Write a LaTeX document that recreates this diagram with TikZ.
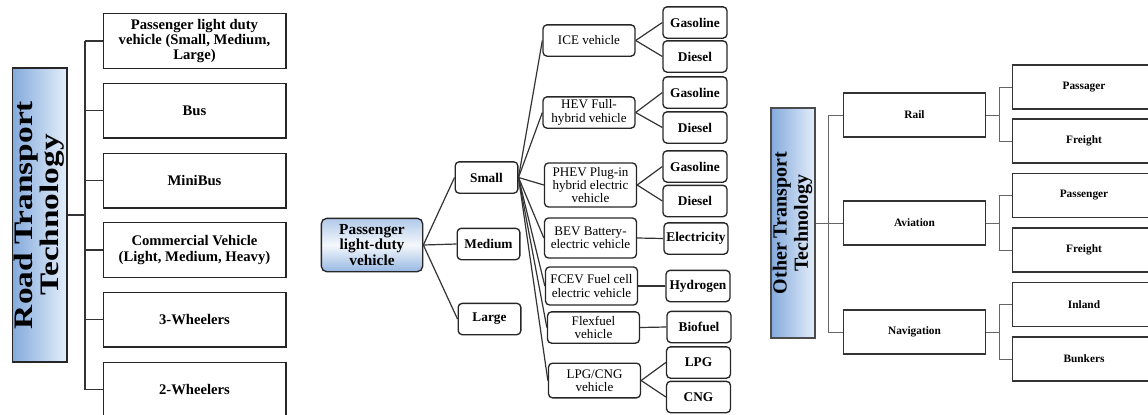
\documentclass[tikz,border=0pt]{standalone}
\usepackage{fontspec}
\usepackage{graphicx}
\setmainfont{Liberation Serif}
\usetikzlibrary{positioning, calc}
\definecolor{techblue}{RGB}{132,170,220}
\definecolor{paleblue}{RGB}{228,238,250}
\definecolor{boxblue}{RGB}{150,183,226}

\begin{document}
\begin{tikzpicture}[x=0.75pt, y=-0.75pt,
    techbox/.style={draw=black!85, line width=1pt, left color=techblue, right color=paleblue, inner sep=0pt},
    roadbox/.style={draw=black!85, line width=1pt, minimum width=137pt, minimum height=41pt, inner sep=1pt, align=center, font=\fontsize{11}{11.3}\selectfont\bfseries},
    pldvbox/.style={draw=black!85, line width=1pt, rounded corners=4pt, top color=boxblue!75, bottom color=boxblue, middle color=white!90!boxblue, minimum width=76pt, minimum height=40pt, inner sep=1pt, align=center, font=\fontsize{11.5}{11.3}\selectfont\bfseries},
    sizebox/.style={draw=black!85, line width=1pt, rounded corners=3pt, minimum width=47pt, minimum height=23.5pt, inner sep=1pt, font=\fontsize{10}{10}\selectfont\bfseries},
    drivebox/.style={draw=black!85, line width=1pt, rounded corners=3pt, minimum width=69pt, minimum height=23.5pt, inner sep=1pt, align=center, font=\fontsize{9.8}{10}\selectfont},
    fuelbox/.style={draw=black!85, line width=1pt, rounded corners=3pt, minimum width=48pt, minimum height=23.5pt, inner sep=1pt, font=\fontsize{10}{10}\selectfont\bfseries},
    modebox/.style={draw=black!80, line width=0.8pt, minimum width=107pt, minimum height=33pt, font=\fontsize{8.5}{8.5}\selectfont\bfseries},
    link/.style={line width=0.9pt, draw=black!80},
    thinlink/.style={line width=0.7pt, draw=black!60}]

    \useasboundingbox (0,0) rectangle (1148,414);
    \clip (0,0) rectangle (1148,414);

    % Road transport technology
    \node[techbox, minimum width=41pt, minimum height=220.5pt] (road) at (39.5,215)
        {\rotatebox{90}{\scalebox{1}[0.8]{\fontsize{25}{23.4}\selectfont\bfseries\begin{tabular}{@{}c@{}}Road Transport\\Technology\end{tabular}}}};
    \node[roadbox] (pldvroad) at (194.5,41) {Passenger light duty\\vehicle (Small, Medium,\\Large)};
    \node[roadbox] (bus) at (194.5,110.5) {Bus};
    \node[roadbox] (minibus) at (194.5,180.5) {MiniBus};
    \node[roadbox] (commercial) at (194.5,250) {Commercial Vehicle\\(Light, Medium, Heavy)};
    \node[roadbox] (wheel3) at (194.5,319.5) {3-Wheelers};
    \node[roadbox] (wheel2) at (194.5,389.5) {2-Wheelers};

    \coordinate (roadtrunk) at (85,215);
    \draw[link] (road.east) -- (roadtrunk);
    \draw[link] (roadtrunk |- pldvroad.west) -- (roadtrunk |- wheel2.west);
    \foreach \r in {pldvroad,bus,minibus,commercial,wheel3,wheel2}
        \draw[link] (roadtrunk |- \r.west) -- (\r.west);

    % Passenger light-duty vehicle
    \node[pldvbox] (pldv) at (372,245) {Passenger\\light-duty\\vehicle};
    \node[sizebox] (small) at (486.5,177.5) {Small};
    \node[sizebox] (medium) at (488.5,244) {Medium};
    \node[sizebox] (large) at (489.5,319) {Large};

    \draw[link] (pldv.east) -- (small.west);
    \draw[link] (pldv.east) -- (medium.west);
    \draw[link] (pldv.east) -- (large.west);

    % Drive trains
    \node[drivebox] (ice) at (589,40.5) {ICE vehicle};
    \node[drivebox] (hev) at (589,112.5) {HEV Full-\\hybrid vehicle};
    \node[drivebox, minimum height=33pt] (phev) at (590.5,185) {PHEV Plug-in\\hybrid electric\\vehicle};
    \node[drivebox, minimum height=30pt] (bev) at (590.5,238) {BEV Battery-\\electric vehicle};
    \node[drivebox, minimum height=28.5pt] (fcev) at (591.5,286) {FCEV Fuel cell\\electric vehicle};
    \node[drivebox] (flex) at (593.5,327.5) {Flexfuel\\vehicle};
    \node[drivebox, minimum height=26pt] (lpgcng) at (594.5,380.5) {LPG/CNG\\vehicle};

    \foreach \d in {ice,hev,phev,bev,fcev,flex,lpgcng}
        \draw[link] (small.east) -- (\d.west);

    % Fuels
    \node[fuelbox] (gas1) at (695,22.5) {Gasoline};
    \node[fuelbox] (dies1) at (695,56.5) {Diesel};
    \node[fuelbox] (gas2) at (695,92.5) {Gasoline};
    \node[fuelbox] (dies2) at (695,127.5) {Diesel};
    \node[fuelbox] (gas3) at (695,166.5) {Gasoline};
    \node[fuelbox] (dies3) at (695,201) {Diesel};
    \node[fuelbox] (elec) at (696,238.5) {Electricity};
    \node[fuelbox] (hydro) at (698,286) {Hydrogen};
    \node[fuelbox] (bio) at (699,327) {Biofuel};
    \node[fuelbox] (lpg) at (698.5,362.5) {LPG};
    \node[fuelbox] (cng) at (698.5,397) {CNG};

    \draw[link] (ice.east) -- (gas1.west);
    \draw[link] (ice.east) -- (dies1.west);
    \draw[link] (hev.east) -- (gas2.west);
    \draw[link] (hev.east) -- (dies2.west);
    \draw[link] (phev.east) -- (gas3.west);
    \draw[link] (phev.east) -- (dies3.west);
    \draw[link] (bev.east) -- (elec.west);
    \draw[link] (fcev.east) -- (hydro.west);
    \draw[link] (flex.east) -- (bio.west);
    \draw[link] (lpgcng.east) -- (lpg.west);
    \draw[link] (lpgcng.east) -- (cng.west);

    % Other transport technology
    \node[techbox, draw=black!70, line width=0.8pt, minimum width=33pt, minimum height=172.5pt] (other) at (793,223)
        {\rotatebox{90}{\fontsize{15}{16}\selectfont\bfseries\begin{tabular}{@{}c@{}}Other Transport\\Technology\end{tabular}}};
    \node[modebox] (rail) at (914.5,115) {Rail};
    \node[modebox] (aviation) at (914.5,223) {Aviation};
    \node[modebox] (navigation) at (914.5,332) {Navigation};

    \coordinate (othertrunk) at (828,223);
    \draw[thinlink] (other.east) -- (othertrunk);
    \draw[thinlink] (othertrunk |- rail.west) -- (othertrunk |- navigation.west);
    \foreach \m in {rail,aviation,navigation}
        \draw[thinlink] (othertrunk |- \m.west) -- (\m.west);

    % Segments
    \node[modebox] (railpass) at (1084,87) {Passager};
    \node[modebox] (railfreight) at (1084,141) {Freight};
    \node[modebox] (airpass) at (1084,195.5) {Passenger};
    \node[modebox] (airfreight) at (1084,250) {Freight};
    \node[modebox] (inland) at (1084,304.5) {Inland};
    \node[modebox] (bunkers) at (1084,359) {Bunkers};

    \coordinate (railfork) at (999.5,115);
    \coordinate (airfork) at (999.5,223);
    \coordinate (navfork) at (999.5,332);
    \draw[thinlink] (rail.east) -- (railfork);
    \draw[thinlink] (railpass.west) -| (railfork) |- (railfreight.west);
    \draw[thinlink] (aviation.east) -- (airfork);
    \draw[thinlink] (airpass.west) -| (airfork) |- (airfreight.west);
    \draw[thinlink] (navigation.east) -- (navfork);
    \draw[thinlink] (inland.west) -| (navfork) |- (bunkers.west);
\end{tikzpicture}
\end{document}
